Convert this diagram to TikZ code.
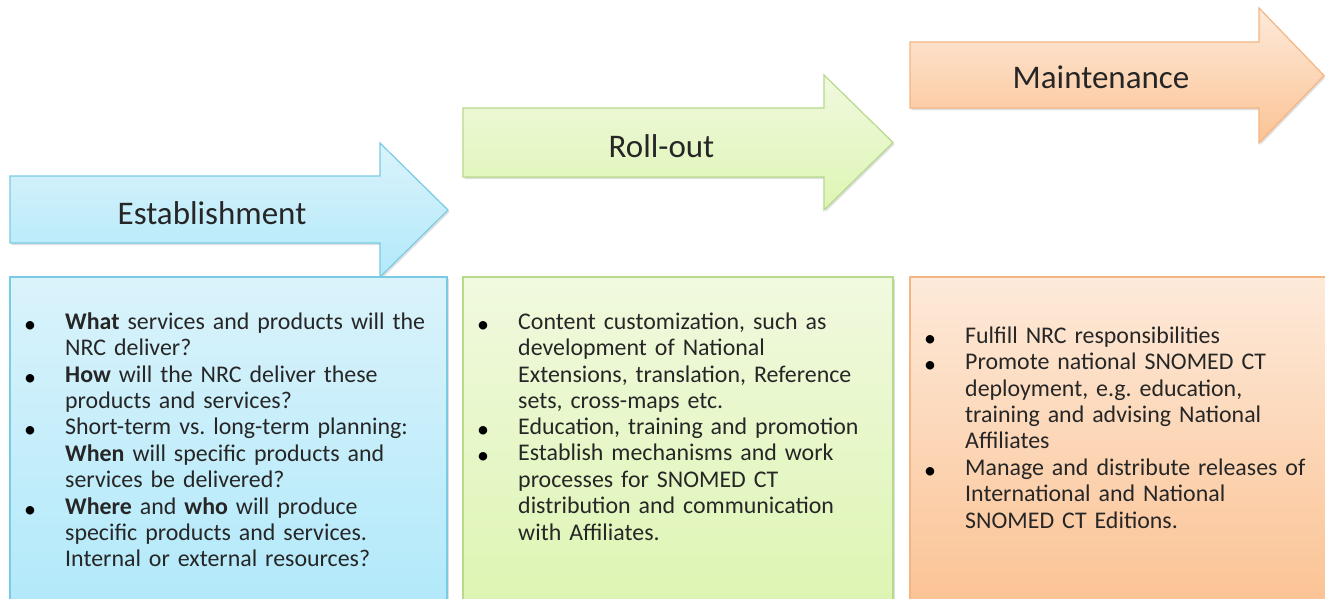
\documentclass[tikz,border=0pt]{standalone}
\usepackage{fontspec}
\setmainfont{Carlito}
\usetikzlibrary{shadows}
\frenchspacing
\definecolor{bluetop}{HTML}{DAF3FB}
\definecolor{bluebot}{HTML}{B2E9FA}
\definecolor{blueline}{HTML}{79CBE4}
\definecolor{greentop}{HTML}{F1F9DF}
\definecolor{greenbot}{HTML}{DDF5B3}
\definecolor{greenline}{HTML}{B6D98C}
\definecolor{orangetop}{HTML}{FDEADA}
\definecolor{orangebot}{HTML}{FBC394}
\definecolor{orangeline}{HTML}{F4B583}
\begin{document}
\begin{tikzpicture}[x=1pt,y=-1pt,
  panel/.style={line width=1.2pt, line join=miter,
    drop shadow={shadow xshift=1.5pt, shadow yshift=-2pt, opacity=0.25}},
  bluefill/.style={panel, draw=blueline, top color=bluetop, bottom color=bluebot},
  greenfill/.style={panel, draw=greenline, top color=greentop, bottom color=greenbot},
  orangefill/.style={panel, draw=orangeline, top color=orangetop, bottom color=orangebot},
  phase/.style={anchor=base, inner sep=0pt, font=\fontsize{33}{38}\selectfont, text=black!85},
  bul/.style={anchor=base, inner sep=0pt, yshift=-3pt, font=\fontsize{24}{26.4}\selectfont},
  itemtext/.style={anchor=base west, inner sep=0pt, text width=420pt, align=left,
    font=\fontsize{23.9}{26.4}\selectfont, text=black!85}]
\clip (0,0) rectangle (1325,598);
\fill[white] (0,0) rectangle (1325,598);

% arrows
\path[bluefill] (10,176) -- (380,176) -- (380,143) -- (448,210) -- (380,277) -- (380,243) -- (10,243) -- cycle;
\path[greenfill] (463,108) -- (824,108) -- (824,75) -- (893,142.5) -- (824,210) -- (824,177) -- (463,177) -- cycle;
\path[orangefill] (910,42) -- (1259,42) -- (1259,8) -- (1324,75.5) -- (1259,143) -- (1259,108) -- (910,108) -- cycle;

\node[phase] (est) at (212,224) {Establishment};
\node[phase] (roll) at (661.5,157.3) {Roll-out};
\node[phase] (main) at (1101,88.3) {Maintenance};

% boxes
\path[bluefill] (10,277) rectangle (447,602);
\path[greenfill] (463,277) rectangle (893,602);
\path[orangefill] (910,277) rectangle (1335,602);

% box 1
\node[bul] (b11) at (30,329.3) {•};
\node[itemtext] (t11) at (65,329.3) {\textbf{What} services and products will the\\NRC deliver?};
\node[bul] (b12) at (30,382.1) {•};
\node[itemtext] (t12) at (65,382.1) {\textbf{How} will the NRC deliver these\\products and services?};
\node[bul] (b13) at (30,434.9) {•};
\node[itemtext] (t13) at (65,434.9) {Short-term vs. long-term planning:\\\textbf{When} will specific products and\\services be delivered?};
\node[bul] (b14) at (30,514.1) {•};
\node[itemtext] (t14) at (65,514.1) {\textbf{Where} and \textbf{who} will produce\\specific products and services.\\Internal or external resources?};

% box 2
\node[bul] (b21) at (483,329.3) {•};
\node[itemtext] (t21) at (518,329.3) {Content customization, such as\\development of National\\Extensions, translation, Reference\\sets, cross-maps etc.};
\node[bul] (b22) at (483,434.5) {•};
\node[itemtext] (t22) at (518,434.5) {Education, training and promotion};
\node[bul] (b23) at (483,460.8) {•};
\node[itemtext] (t23) at (518,460.8) {Establish mechanisms and work\\processes for SNOMED CT\\distribution and communication\\with Affiliates.};

% box 3
\node[bul] (b31) at (930,343.3) {•};
\node[itemtext] (t31) at (965,343.3) {Fulfill NRC responsibilities};
\node[bul] (b32) at (930,369.7) {•};
\node[itemtext] (t32) at (965,369.7) {Promote national SNOMED CT\\deployment, e.g. education,\\training and advising National\\Affiliates};
\node[bul] (b33) at (930,475.3) {•};
\node[itemtext] (t33) at (965,475.3) {Manage and distribute releases of\\International and National\\SNOMED CT Editions.};
\end{tikzpicture}
\end{document}
